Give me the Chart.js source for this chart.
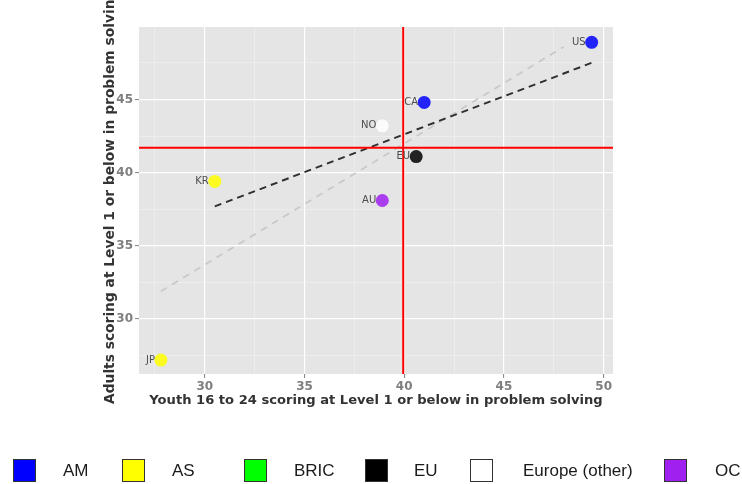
<!DOCTYPE html>
<html>
<head>
<meta charset="utf-8">
<script src="https://cdn.jsdelivr.net/npm/chart.js@4"></script>
<style>
  html, body { margin: 0; padding: 0; background: #fff; }
  #wrap { position: relative; width: 742px; height: 484px; }
  canvas { position: absolute; left: 0; top: 0; }
  .lg-box { position: absolute; top: 459px; width: 21px; height: 21px; border: 1px solid #333; }
  .lg-text { position: absolute; top: 460px; height: 22px; line-height: 22px;
             font-family: "Liberation Sans", Arial, sans-serif; font-size: 17px; color: #1a1a1a; }
</style>
</head>
<body>
<div id="wrap">
  <canvas id="chart" width="742" height="484"></canvas>
</div>
<script>
var countries = ["US", "CA", "NO", "EU", "KR", "AU", "JP"];
var youth = [49.4, 41.0, 38.9, 40.6, 30.5, 38.9, 27.8];
var adults = [48.9, 44.8, 43.2, 41.1, 39.4, 38.1, 27.2];
var regions = ["AM", "AM", "Europe (other)", "EU", "AS", "OC", "AS"];

var groups = ["AM", "AS", "BRIC", "EU", "Europe (other)", "OC"];
var groupColors = ["#0000FF", "#FFFF00", "#00FF00", "#000000", "#FFFFFF", "#A020F0"];
var pointColors = ["rgba(0,0,255,0.85)", "rgba(255,255,0,0.85)", "rgba(0,255,0,0.85)",
                   "rgba(0,0,0,0.85)", "rgba(255,255,255,0.85)", "rgba(160,32,240,0.85)"];

// two fitted lines
var fitX = [30.5, 49.4];
var fitY = [37.7, 47.5];
var fit2X = [27.8, 48.0];
var fit2Y = [31.9, 48.6];

// reference lines (means)
var meanYouth = 39.95;
var meanAdults = 41.7;

var xMin = 26.7, xMax = 50.47;
var yMin = 26.25, yMax = 49.95;

var xTitle = "Youth 16 to 24 scoring at Level 1 or below in problem solving";
var yTitle = "Adults scoring at Level 1 or below in problem solving";

// legend layout
var legendBoxX = [13, 122, 244, 365, 470, 664];
var legendTextX = [63, 172, 294, 414, 523, 715];

function xy(xs, ys) {
  return xs.map(function (x, i) { return { x: x, y: ys[i] }; });
}

var panelBg = {
  id: "panelBg",
  beforeDraw: function (chart) {
    var a = chart.chartArea, ctx = chart.ctx;
    ctx.save();
    ctx.fillStyle = "#E5E5E5";
    ctx.fillRect(a.left, a.top, a.right - a.left, a.bottom - a.top);
    ctx.restore();
  }
};

var pointLabels = {
  id: "pointLabels",
  afterDatasetsDraw: function (chart) {
    var ctx = chart.ctx, xs = chart.scales.x, ys = chart.scales.y;
    ctx.save();
    ctx.font = "10px 'DejaVu Sans'";
    ctx.fillStyle = "#4d4d4d";
    ctx.textAlign = "right";
    ctx.textBaseline = "middle";
    countries.forEach(function (c, i) {
      ctx.fillText(c, xs.getPixelForValue(youth[i]) - 6, ys.getPixelForValue(adults[i]));
    });
    ctx.restore();
  }
};

var axisTitles = {
  id: "axisTitles",
  afterDraw: function (chart) {
    var a = chart.chartArea, ctx = chart.ctx;
    ctx.save();
    ctx.fillStyle = "#333";
    ctx.textBaseline = "middle";
    ctx.textAlign = "center";
    ctx.font = "bold 13.1px 'DejaVu Sans'";
    ctx.fillText(xTitle, (a.left + a.right) / 2, 401);
    ctx.font = "bold 13.8px 'DejaVu Sans'";
    ctx.translate(110, 404);
    ctx.rotate(-Math.PI / 2);
    ctx.textAlign = "left";
    ctx.fillText(yTitle, 0, 0);
    ctx.restore();
  }
};

function isMajor(ctx) {
  return ctx.tick && Math.abs(ctx.tick.value % 5) < 1e-6;
}

var gridOpts = {
  color: function (c) { return isMajor(c) ? "#FFFFFF" : "#F2F2F2"; },
  lineWidth: function (c) { return isMajor(c) ? 1.2 : 0.6; },
  tickColor: function (c) { return isMajor(c) ? "#7F7F7F" : "rgba(0,0,0,0)"; },
  tickLength: 4,
  tickWidth: 1
};

new Chart(document.getElementById("chart"), {
  type: "scatter",
  data: {
    datasets: [
      {
        label: "countries",
        data: xy(youth, adults),
        pointRadius: 6.5,
        pointHoverRadius: 6.5,
        borderWidth: 0,
        backgroundColor: regions.map(function (r) { return pointColors[groups.indexOf(r)]; }),
        order: 0
      },
      {
        label: "mean youth",
        data: [{ x: meanYouth, y: yMin }, { x: meanYouth, y: yMax }],
        showLine: true, pointRadius: 0, borderColor: "#FF0000", borderWidth: 2, order: 1
      },
      {
        label: "mean adults",
        data: [{ x: xMin, y: meanAdults }, { x: xMax, y: meanAdults }],
        showLine: true, pointRadius: 0, borderColor: "#FF0000", borderWidth: 2, order: 1
      },
      {
        label: "fit",
        data: xy(fitX, fitY),
        showLine: true, pointRadius: 0, borderColor: "#2e2e2e", borderWidth: 1.9,
        borderDash: [7, 5], order: 2
      },
      {
        label: "fit2",
        data: xy(fit2X, fit2Y),
        showLine: true, pointRadius: 0, borderColor: "#C8C8C8", borderWidth: 1.7,
        borderDash: [7, 6], order: 3
      }
    ]
  },
  options: {
    responsive: false,
    animation: false,
    events: [],
    layout: { padding: { left: 0, right: 129, top: 27, bottom: 70 } },
    plugins: { legend: { display: false }, tooltip: { enabled: false } },
    scales: {
      x: {
        type: "linear",
        min: xMin, max: xMax,
        border: { display: false },
        grid: gridOpts,
        ticks: {
          stepSize: 2.5, includeBounds: false, maxRotation: 0, autoSkip: false,
          padding: 2, color: "#7F7F7F",
          font: { family: "'DejaVu Sans'", size: 12, weight: "bold" },
          callback: function (v) { return Math.abs(v % 5) < 1e-6 ? v : ""; }
        },
        afterFit: function (s) { s.height = 40; }
      },
      y: {
        type: "linear",
        min: yMin, max: yMax,
        border: { display: false },
        grid: gridOpts,
        ticks: {
          stepSize: 2.5, includeBounds: false, autoSkip: false,
          padding: 2, color: "#7F7F7F",
          font: { family: "'DejaVu Sans'", size: 12, weight: "bold" },
          callback: function (v) { return Math.abs(v % 5) < 1e-6 ? v : ""; }
        },
        afterFit: function (s) { s.width = 139; }
      }
    }
  },
  plugins: [panelBg, pointLabels, axisTitles]
});

// legend
var wrap = document.getElementById("wrap");
groups.forEach(function (g, i) {
  var box = document.createElement("div");
  box.className = "lg-box";
  box.style.left = legendBoxX[i] + "px";
  box.style.background = groupColors[i];
  wrap.appendChild(box);
  var t = document.createElement("div");
  t.className = "lg-text";
  t.style.left = legendTextX[i] + "px";
  t.textContent = g;
  wrap.appendChild(t);
});
</script>
</body>
</html>
